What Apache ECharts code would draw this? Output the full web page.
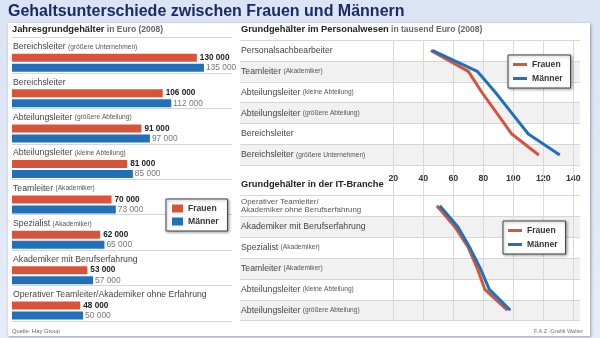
<!DOCTYPE html>
<html>
<head>
<meta charset="utf-8">
<script src="https://cdn.jsdelivr.net/npm/echarts@6/dist/echarts.min.js"></script>
<style>
  html, body { margin: 0; padding: 0; width: 600px; height: 338px; overflow: hidden;
    background: linear-gradient(180deg, #dbe4f4 0%, #e6ecf8 100%); }
  #panel { position: absolute; left: 8px; top: 23px; width: 582px; height: 313px;
    background: #fff; box-shadow: 1px 1px 3px rgba(0,0,0,0.35); }
  #chart { position: absolute; left: 0; top: 0; width: 600px; height: 338px; }
</style>
</head>
<body>
<div id="panel"></div>
<div id="chart"></div>
<script>
// Jahresgrundgehälter in Euro (2008)
const annualRoles = [
  'Bereichsleiter (größere Unternehmen)',
  'Bereichsleiter',
  'Abteilungsleiter (größere Abteilung)',
  'Abteilungsleiter (kleine Abteilung)',
  'Teamleiter (Akademiker)',
  'Spezialist (Akademiker)',
  'Akademiker mit Berufserfahrung',
  'Operativer Teamleiter/Akademiker ohne Erfahrung'
];
const annualWomen = [130000, 106000, 91000, 81000, 70000, 62000, 53000, 48000];
const annualMen   = [135000, 112000, 97000, 85000, 73000, 65000, 57000, 50000];

// Grundgehälter im Personalwesen, in tausend Euro
const hrRoles = [
  'Personalsachbearbeiter',
  'Teamleiter (Akademiker)',
  'Abteilungsleiter (kleine Abteilung)',
  'Abteilungsleiter (größere Abteilung)',
  'Bereichsleiter',
  'Bereichsleiter (größere Unternehmen)'
];
const hrWomen = [45, 70, 79, 89, 99, 117];
const hrMen   = [46, 76, 88, 99, 110, 131];

// Grundgehälter in der IT-Branche, in tausend Euro
const itRoles = [
  'Operativer Teamleiter/\nAkademiker ohne Berufserfahrung',
  'Akademiker mit Berufserfahrung',
  'Spezialist (Akademiker)',
  'Teamleiter (Akademiker)',
  'Abteilungsleiter (kleine Abteilung)',
  'Abteilungsleiter (größere Abteilung)'
];
const itWomen = [49, 61, 70, 76, 81, 96];
const itMen   = [51, 63, 71, 78, 84, 98];

// Shared value scale of the two line charts
const thousandMin = 20;
const thousandMax = 140;
const thousandStep = 20;

const seriesNames = ['Frauen', 'Männer'];
const RED = '#d6553a';
const BLUE = '#2271b8';
const FONT = "'Liberation Sans', Arial, sans-serif";

function fmtEuro(v) {
  return String(v).replace(/\B(?=(\d{3})+(?!\d))/g, ' ');
}

// Role name with the parenthetical note set smaller
function roleLabel(v) {
  if (v.indexOf('\n') >= 0) {
    return v.split('\n').map(s => '{small|' + s + '}').join('\n');
  }
  const i = v.indexOf(' (');
  if (i < 0) return '{main|' + v + '}';
  return '{main|' + v.slice(0, i) + ' }{note|' + v.slice(i + 1) + '}';
}
const roleRich = {
  main:  { fontFamily: FONT, fontSize: 8.7, color: '#444' },
  note:  { fontFamily: FONT, fontSize: 6.6, color: '#555' },
  small: { fontFamily: FONT, fontSize: 7.9, color: '#555', lineHeight: 8.5 }
};

const ROW_L = 35.4, TOP_L = 37.6;
const ROW_R = 20.9, TOP_HR = 40, TOP_IT = 195.3;
const LINE_LEFT = 393.3, LINE_W = 180;

const chart = echarts.init(document.getElementById('chart'), null, { renderer: 'canvas' });

const catAxisHidden = (idx, data) => ({
  type: 'category', gridIndex: idx, data: data, inverse: true, show: false
});
const valAxisHidden = (idx) => ({ type: 'value', gridIndex: idx, show: false });

const labelCatAxis = (idx, data, shaded, pad) => ({
  type: 'category', gridIndex: idx, data: data, inverse: true, z: 0,
  axisLine: { show: false }, axisTick: { show: false },
  axisLabel: {
    inside: true, margin: 1, interval: 0, formatter: roleLabel, rich: roleRich,
    verticalAlign: 'middle', padding: pad
  },
  splitLine: { show: true, interval: 0, lineStyle: { color: '#d6d6d6', width: 1 } },
  splitArea: shaded ? { show: true, interval: 0, areaStyle: { color: ['#ffffff', '#f1f1f1'] } } : { show: false }
});

const headRich = {
  b: { fontFamily: FONT, fontSize: 9.3, fontWeight: 'bold', color: '#222' },
  n: { fontFamily: FONT, fontSize: 8.5, color: '#666' }
};
const legendBase = {
  data: seriesNames, orient: 'vertical', icon: 'rect', selectedMode: false,
  backgroundColor: '#fff', borderColor: '#444', borderWidth: 1,
  shadowBlur: 3, shadowColor: 'rgba(0,0,0,0.35)', shadowOffsetX: 1, shadowOffsetY: 1,
  textStyle: { fontFamily: FONT, fontSize: 8.6, fontWeight: 'bold', color: '#333' }
};

const option = {
  animation: false,
  textStyle: { fontFamily: FONT },
  title: [
    { text: 'Gehaltsunterschiede zwischen Frauen und Männern', left: 8, top: 4, padding: 0,
      textStyle: { fontFamily: FONT, fontSize: 16, fontWeight: 'bold', color: '#1c2a68' } },
    { text: '{b|Jahresgrundgehälter}{n| in Euro (2008)}', left: 12, top: 25, padding: 0,
      textStyle: { rich: headRich } },
    { text: '{b|Grundgehälter im Personalwesen}{n| in tausend Euro (2008)}', left: 241, top: 25, padding: 0,
      textStyle: { rich: headRich } },
    { text: 'Grundgehälter in der IT-Branche', left: 241, top: 180, padding: 0,
      textStyle: { fontFamily: FONT, fontSize: 9.3, fontWeight: 'bold', color: '#222' } },
    { text: 'Quelle: Hay Group', left: 12, top: 328, padding: 0,
      textStyle: { fontFamily: FONT, fontSize: 5.8, fontWeight: 'normal', color: '#666' } },
    { text: 'F.A.Z.-Grafik Walter', right: 17, top: 328, padding: 0,
      textStyle: { fontFamily: FONT, fontSize: 5.6, fontWeight: 'normal', color: '#777' } }
  ],
  legend: [
    Object.assign({}, legendBase, { left: 166, top: 199, itemWidth: 11, itemHeight: 8,
      itemGap: 4, padding: [5, 9, 5, 6] }),
    Object.assign({}, legendBase, { left: 508, top: 55, itemWidth: 14, itemHeight: 3,
      itemGap: 5, padding: [5, 8, 5, 5] }),
    Object.assign({}, legendBase, { left: 503, top: 221, itemWidth: 14, itemHeight: 3,
      itemGap: 5, padding: [5, 8, 5, 5] })
  ],
  grid: [
    // 0: row labels and separators of the bar chart
    { left: 12, top: TOP_L, width: 220, height: ROW_L * annualRoles.length },
    // 1: bars
    { left: 12, top: TOP_L + 7.5, width: 213.3, height: ROW_L * annualRoles.length },
    // 2: rows of the HR chart
    { left: 240, top: TOP_HR, width: 340, height: ROW_R * hrRoles.length },
    // 3: HR lines
    { left: LINE_LEFT, top: TOP_HR, width: LINE_W, height: ROW_R * hrRoles.length },
    // 4: rows of the IT chart
    { left: 240, top: TOP_IT, width: 340, height: ROW_R * itRoles.length },
    // 5: IT lines
    { left: LINE_LEFT, top: TOP_IT, width: LINE_W, height: ROW_R * itRoles.length },
    // 6: vertical value grid through both line charts
    { left: LINE_LEFT, top: TOP_HR, width: LINE_W, height: TOP_IT + ROW_R * itRoles.length - TOP_HR }
  ],
  xAxis: [
    valAxisHidden(0),
    { type: 'value', gridIndex: 1, min: 0, max: 150000, show: false },
    valAxisHidden(2),
    { type: 'value', gridIndex: 3, min: thousandMin, max: thousandMax, interval: thousandStep,
      axisLine: { show: false }, axisTick: { show: false }, splitLine: { show: false },
      axisLabel: { margin: 9, fontFamily: FONT, fontSize: 8.8, fontWeight: 'bold', color: '#333' } },
    valAxisHidden(4),
    { type: 'value', gridIndex: 5, min: thousandMin, max: thousandMax, interval: thousandStep, show: false },
    { type: 'value', gridIndex: 6, min: thousandMin, max: thousandMax, interval: thousandStep, z: 1,
      axisLine: { show: false }, axisTick: { show: false }, axisLabel: { show: false },
      splitLine: { show: true, lineStyle: { color: '#d9d9d9', width: 1 } } }
  ],
  yAxis: [
    labelCatAxis(0, annualRoles, false, [0, 0, 17, 0]),
    catAxisHidden(1, annualRoles),
    labelCatAxis(2, hrRoles, true, 0),
    catAxisHidden(3, hrRoles),
    labelCatAxis(4, itRoles, true, 0),
    catAxisHidden(5, itRoles),
    { type: 'value', gridIndex: 6, show: false }
  ],
  series: [
    { name: 'Frauen', type: 'bar', xAxisIndex: 1, yAxisIndex: 1, data: annualWomen,
      barWidth: 8, barGap: '25%', itemStyle: { color: RED },
      label: { show: true, position: 'right', distance: 3, formatter: p => fmtEuro(p.value),
        fontFamily: FONT, fontSize: 8.2, fontWeight: 'bold', color: '#222' } },
    { name: 'Männer', type: 'bar', xAxisIndex: 1, yAxisIndex: 1, data: annualMen,
      barWidth: 8, barGap: '25%', itemStyle: { color: BLUE },
      label: { show: true, position: 'right', distance: 2, formatter: p => fmtEuro(p.value),
        fontFamily: FONT, fontSize: 8.4, color: '#777' } },
    { name: 'Frauen', type: 'line', xAxisIndex: 3, yAxisIndex: 3, data: hrWomen,
      symbol: 'none', lineStyle: { color: RED, width: 3 }, itemStyle: { color: RED }, z: 3 },
    { name: 'Männer', type: 'line', xAxisIndex: 3, yAxisIndex: 3, data: hrMen,
      symbol: 'none', lineStyle: { color: BLUE, width: 3 }, itemStyle: { color: BLUE }, z: 4 },
    { name: 'Frauen', type: 'line', xAxisIndex: 5, yAxisIndex: 5, data: itWomen,
      symbol: 'none', lineStyle: { color: RED, width: 3 }, itemStyle: { color: RED }, z: 3 },
    { name: 'Männer', type: 'line', xAxisIndex: 5, yAxisIndex: 5, data: itMen,
      symbol: 'none', lineStyle: { color: BLUE, width: 3 }, itemStyle: { color: BLUE }, z: 4 }
  ]
};

chart.setOption(option);
</script>
</body>
</html>
